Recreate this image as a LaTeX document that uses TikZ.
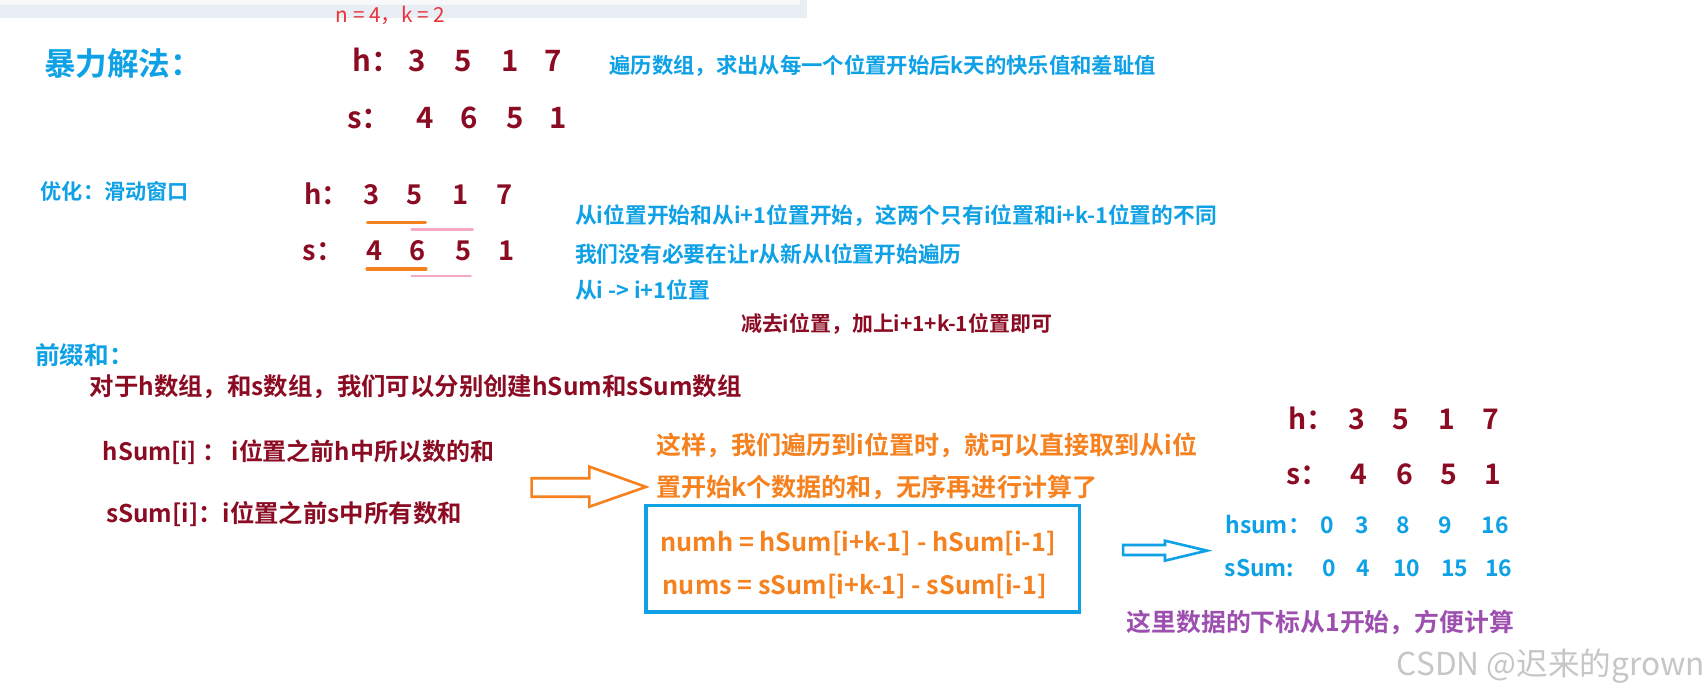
\documentclass[tikz,border=0pt]{standalone}
\usepackage{fontspec}
\setmainfont{Noto Sans CJK SC}[BoldFont={Noto Sans CJK SC Bold}]
\newcommand\fsz[1]{\fontsize{#1}{#1}\selectfont}

\definecolor{wine}{HTML}{8B0B23}
\definecolor{sky}{HTML}{0EA1E6}
\definecolor{tang}{HTML}{F5811F}
\definecolor{rose}{HTML}{F4AAC4}
\definecolor{violet}{HTML}{9D4FB0}
\definecolor{alert}{HTML}{E8333C}
\definecolor{bar}{HTML}{E9EDF4}
\definecolor{barhi}{HTML}{F7F8FA}

\begin{document}
\begin{tikzpicture}[
        x=0.5pt, y=-0.5pt,
        every node/.style={inner sep=0pt},
        words/.style={anchor=base west, font=\bfseries\fsz{#1}},
        digit/.style={anchor=base, font=\bfseries\fsz{#1}},
        hollow/.style={line width=1.2pt, line join=miter}
      ]
        \fill[white] (0,0) rectangle (1568,637);
        \useasboundingbox (0,0) rectangle (1568,637);

        % top bar of the page
        \fill[bar] (0,0) rectangle (741,16.8);
        \fill[barhi] (0,0) rectangle (734,4.6);
        \node[anchor=base west, font=\fsz{9.5}, text=alert] (nk) at (308,21) {n = 4，k = 2};

        % brute force
        \node[words=14.5, text=sky] (brute) at (40,69) {暴力解法：};
        \node[words=13.5, text=wine] (th) at (323,66) {h：};
        \foreach \v/\x [count=\i] in {3/383,5/425.5,1/468,7/507.7}
          \node[digit=13.5, text=wine] (th\i) at (\x,66) {\v};
        \node[words=13.5, text=wine] (ts) at (318.5,118) {s：};
        \foreach \v/\x [count=\i] in {4/390.7,6/430.5,5/472.8,1/512.6}
          \node[digit=13.5, text=wine] (ts\i) at (\x,118) {\v};
        \node[words=9.8, text=sky] (bdesc) at (559,67.5) {遍历数组，求出从每一个位置开始后k天的快乐值和羞耻值};

        % sliding window
        \node[words=9.7, text=sky] (opt) at (37,183.4) {优化：滑动窗口};
        \node[words=12.5, text=wine] (mh) at (278.7,188) {h：};
        \foreach \v/\x [count=\i] in {3/340.8,5/380.7,1/423,7/463}
          \node[digit=12.5, text=wine] (mh\i) at (\x,188) {\v};
        \node[words=12.5, text=wine] (ms) at (277.7,239) {s：};
        \foreach \v/\x [count=\i] in {4/343.4,6/383.2,5/425.5,1/465.3}
          \node[digit=12.5, text=wine] (ms\i) at (\x,239) {\v};
        \draw[tang, line width=1.5pt, line cap=round] (337.4,204) -- (390.6,204);
        \draw[rose, line width=1.3pt, line cap=round] (378,211) -- (434,211);
        \draw[tang, line width=1.5pt, line cap=round] (337,247) -- (391,247);
        \draw[rose, line width=1.3pt, line cap=round] (378,253.4) -- (432,253.4);

        \node[words=10, text=sky] (w1) at (527.5,205) {从i位置开始和从i+1位置开始，这两个只有i位置和i+k-1位置的不同};
        \node[words=10, text=sky] (w2) at (527.5,241) {我们没有必要在让r从新从l位置开始遍历};
        \node[words=10, text=sky] (w3) at (527.5,273.6) {从i -> i+1位置};
        \node[words=9.6, text=wine] (w4) at (680,304.5) {减去i位置，加上i+1+k-1位置即可};

        % prefix sums
        \node[words=11.3, text=sky] (pre) at (32,334.6) {前缀和：};
        \node[words=11.2, text=wine] (p1) at (82,363) {对于h数组，和s数组，我们可以分别创建hSum和sSum数组};
        \node[words=11, text=wine] (p2) at (94,422.5) {hSum[i] ： i位置之前h中所以数的和};
        \node[words=11.2, text=wine] (p3) at (97,480) {sSum[i]：i位置之前s中所有数和};

        \draw[tang, hollow] (488,439) -- (541,439) -- (541,428.4) -- (593,447)
          -- (541,465.2) -- (541,456) -- (488,456) -- cycle;

        \node[words=11.5, text=tang] (o1) at (602,417) {这样，我们遍历到i位置时，就可以直接取到从i位};
        \node[words=11.5, text=tang] (o2) at (602,455.5) {置开始k个数据的和，无序再进行计算了};

        \node[draw=sky, line width=1.7pt, minimum width=199pt, minimum height=49pt] (box) at (792,513) {};
        \node[words=11.6, text=tang] (f1) at (606,506) {numh = hSum[i+k-1] - hSum[i-1]};
        \node[words=11.6, text=tang] (f2) at (608,546) {nums = sSum[i+k-1] - sSum[i-1]};

        \draw[sky, hollow] (1031,500.3) -- (1069.5,500.3) -- (1069.5,496.4) -- (1108,505.5)
          -- (1069.5,514.7) -- (1069.5,509.5) -- (1031,509.5) -- cycle;

        % arrays with their prefix sums
        \node[words=13, text=wine] (rh) at (1182.7,394) {h：};
        \foreach \v/\x [count=\i] in {3/1245.2,5/1285.6,1/1327.9,7/1368.4}
          \node[digit=13, text=wine] (rh\i) at (\x,394) {\v};
        \node[words=13, text=wine] (rs) at (1180.9,445) {s：};
        \foreach \v/\x [count=\i] in {4/1247.8,6/1289.3,5/1330.5,1/1370.2}
          \node[digit=13, text=wine] (rs\i) at (\x,445) {\v};
        \node[words=10.5, text=sky] (hs) at (1124.6,489.5) {hsum：};
        \foreach \v/\x [count=\i] in {0/1218.7,3/1250.7,8/1288.6,9/1326.8,16/1372.8}
          \node[digit=10.5, text=sky] (hs\i) at (\x,489.5) {\v};
        \node[words=10.5, text=sky] (ss) at (1123.9,529.5) {sSum:};
        \foreach \v/\x [count=\i] in {0/1220.2,4/1251.8,10/1291.2,15/1335.3,16/1375.8}
          \node[digit=10.5, text=sky] (ss\i) at (\x,529.5) {\v};

        \node[words=11.4, text=violet] (note) at (1034,579.7) {这里数据的下标从1开始，方便计算};
        \node[anchor=base west, font=\fsz{14.5}, text=gray!45] (mark) at (1282,620.5) {CSDN @迟来的grown};
      \end{tikzpicture}
\end{document}
